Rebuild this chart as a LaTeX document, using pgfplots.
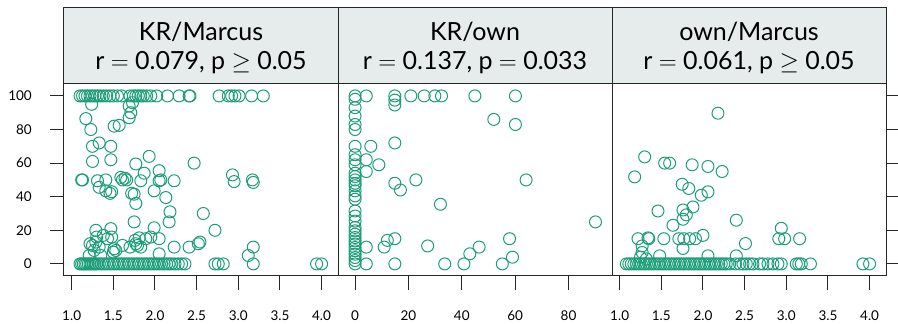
\documentclass[border=0pt]{standalone}
\usepackage{pgfplots}
\pgfplotsset{compat=1.18}
\usepackage{fontspec}
\setmainfont{Lato}
\definecolor{dgreen}{HTML}{1B9E77}
\definecolor{stripbg}{RGB}{230,235,235}
\begin{document}
\begin{tikzpicture}[x=1pt,y=1pt]
\path[use as bounding box] (0,0) rectangle (898,324);
\pgfplotsset{
  panel/.style={
    scale only axis, width=274pt, height=192pt,
    ymin=-7.2, ymax=107.1, anchor=south west, clip=false,
    axis line style={black!85, line width=1pt},
    every tick/.style={black!85, line width=1pt},
    major tick length=14pt, tick align=outside,
    ytick={0,20,40,60,80,100},
    /pgf/number format/assume math mode=true,
    tick label style={font=\fontsize{13.5}{13.5}\selectfont, inner sep=0pt},
    xticklabel shift=21pt,
    yticklabel shift=18pt,
  },
  pts/.style={only marks, mark=o, mark size=6pt, mark options={line width=1pt, draw=dgreen}, color=dgreen},
}
\newcommand{\strip}[2]{%
  \fill[stripbg] (rel axis cs:0,1) rectangle (rel axis cs:1,1.401);
  \draw[black!85, line width=1pt] (rel axis cs:0,1) rectangle (rel axis cs:1,1.401);
  \node[anchor=base, inner sep=0pt, font=\fontsize{25}{25}\selectfont] at (rel axis cs:0.5,1.229) {#1};
  \node[anchor=base, inner sep=0pt, font=\fontsize{25}{25}\selectfont] at (rel axis cs:0.5,1.073) {#2};
}
% Panel 1: KR/Marcus
\begin{axis}[panel, at={(64pt,48pt)},
  xmin=0.908, xmax=4.197,
  xtick={1,1.5,2,2.5,3,3.5,4}, xticklabels={1.0,1.5,2.0,2.5,3.0,3.5,4.0},
  xtick pos=left, ytick pos=left]
\addplot[pts] coordinates {
(1.10,100)(1.13,100)(1.16,100)(1.19,100)(1.22,100)(1.25,100)(1.28,100)(1.31,100)(1.34,100)(1.38,100)(1.42,100)(1.46,100)(1.50,100)(1.55,100)(1.60,100)(1.70,100)(1.74,100)(1.77,100)(1.80,100)(1.83,100)(1.86,100)(1.90,100)(1.95,100)(2.02,100)(2.15,100)(2.29,100)(2.41,100)(2.42,100)(2.77,100)(2.88,100)(2.92,100)(2.96,100)(3.01,100)(3.16,100)(3.30,100)
(1.24,95)(1.69,94)(1.73,96)(1.69,87)(1.71,90)(1.17,86.5)(1.23,80)(1.51,82)(1.57,82.5)(1.25,70)(1.33,72)(1.47,70)(1.25,61)(1.47,62)(1.77,59.5)(1.93,64)(2.47,60)(1.13,50)(1.12,50)(1.31,49.5)(1.41,50)(1.33,45.6)(1.41,43.5)(1.46,42)(1.48,43)(1.59,51.5)(1.61,50)(1.64,51)(1.66,50)(1.83,49.5)(1.87,54)(2.05,55.5)(2.05,49.5)(2.07,50)(2.23,49.5)(1.72,42)(1.75,41.5)(1.77,36)(1.99,43.5)(2.13,39.5)(2.18,31)(2.17,25)(1.75,25)(2.58,30)(2.72,20)(2.93,53)(2.95,49)(3.17,50)(3.18,48.5)
(1.29,20)(1.47,21)(1.99,21.5)(1.81,15.5)(2.05,15)(1.29,13)(1.25,11)(1.33,10)(1.43,15)(1.51,9)(1.53,8)(1.61,11)(1.77,12)(1.83,10)(1.89,15)(2.23,10)(2.41,10)(2.52,12)(2.54,13)(1.22,12)(1.30,16)(1.38,17)(1.48,16)(1.21,5)(1.35,5)(1.50,7)(1.27,8)(1.76,14)(1.95,16)(2.05,6)(1.70,10)(1.79,11)(3.18,10)(3.12,5)
(1.10,0)(1.12,0)(1.14,0)(1.16,0)(1.18,0)(1.20,0)(1.22,0)(1.24,0)(1.26,0)(1.28,0)(1.30,0)(1.33,0)(1.36,0)(1.39,0)(1.42,0)(1.45,0)(1.48,0)(1.51,0)(1.54,0)(1.57,0)(1.60,0)(1.63,0)(1.66,0)(1.69,0)(1.72,0)(1.75,0)(1.78,0)(1.81,0)(1.84,0)(1.87,0)(1.90,0)(1.93,0)(1.96,0)(1.99,0)(2.02,0)(2.05,0)(2.08,0)(2.11,0)(2.14,0)(2.17,0)(2.20,0)(2.24,0)(2.28,0)(2.32,0)(2.36,0)(2.72,0)(2.76,0)(2.82,0)(3.18,0)(3.94,0)(4.00,0)
};
\strip{KR/Marcus}{r $=$ 0.079, p $\geq$ 0.05}
\end{axis}
% Panel 2: KR/own
\begin{axis}[panel, at={(338pt,48pt)},
  xmin=-6.4, xmax=96.3,
  xtick={0,20,40,60,80},
  xtick pos=left, ytick=\empty]
\addplot[pts] coordinates {
(0,100)(0,98)(0,93)(0,88)(0,83)(0,80)(0,70)(0,65)(0,62)(0,59)(0,54)(0,52)(0,50)(0,48)(0,46.5)(0,43.5)(0,40.5)(0,38.5)(0,31.5)(0,28.5)(0,25.5)(0,21.7)(0,19.7)(0,17.7)(0,15.7)(0,13.7)(0,11.8)(0,9.8)(0,7.8)(0,5.8)(0,3.8)(0,2)(0,0)
(4.2,100)(5.9,70)(4.2,62)(8.9,59)(4.2,55)(4.2,10)(4.2,0)(14.9,100)(14.9,97.5)(14.9,94.6)(14.9,72)(14.9,48)(17,44)(22.8,50)(14.9,15)(12.1,14)(10.9,10)(14.9,0)(20.9,100)(25.9,100)(29.9,100)(32.4,100)(44.9,100)(60.1,100)(32,35.5)(27.2,10.7)(33.6,0)(40.8,0)(43,6)(46.5,10)(52,86)(60.1,83)(64.1,50)(90.1,25)(57.9,15)(59,4)(55.2,0)
};
\strip{KR/own}{r $=$ 0.137, p $=$ 0.033}
\end{axis}
% Panel 3: own/Marcus
\begin{axis}[panel, at={(612pt,48pt)},
  xmin=0.908, xmax=4.197,
  xtick={1,1.5,2,2.5,3,3.5,4}, xticklabels={1.0,1.5,2.0,2.5,3.0,3.5,4.0},
  xtick pos=left, ytick pos=right, yticklabels={}]
\addplot[pts] coordinates {
(2.18,89.7)(1.30,63.7)(1.18,51.8)(1.54,60)(1.60,60)(1.87,59)(2.06,58)(2.23,55)(1.75,47.4)(1.83,44.9)(1.98,40.9)(2.06,42.9)(1.46,31.5)(1.76,32.1)(1.88,33.9)(1.76,26.6)(1.80,29.2)(1.64,23)(2.40,26)(1.22,15)(1.35,15)(1.34,15.5)(1.53,15)(1.71,15)(1.77,15)(1.84,15)(1.91,15)(2.0,17)(1.27,10.7)(1.27,6.8)(1.48,4.8)(1.76,9.2)(2.06,4.8)(2.40,4.8)(2.51,12.1)(2.94,21.2)(2.91,15)(2.98,15)(3.16,15)(1.25,4)(1.32,3)
(1.08,0)(1.11,0)(1.14,0)(1.17,0)(1.20,0)(1.23,0)(1.26,0)(1.29,0)(1.32,0)(1.35,0)(1.38,0)(1.41,0)(1.44,0)(1.47,0)(1.50,0)(1.53,0)(1.56,0)(1.59,0)(1.62,0)(1.65,0)(1.68,0)(1.71,0)(1.74,0)(1.77,0)(1.80,0)(1.83,0)(1.86,0)(1.89,0)(1.92,0)(1.95,0)(1.98,0)(2.01,0)(2.04,0)(2.07,0)(2.10,0)(2.13,0)(2.16,0)(2.19,0)(2.22,0)(2.25,0)(2.28,0)(2.32,0)(2.39,0)(2.44,0)(2.48,0)(2.52,0)(2.56,0)(2.60,0)(2.68,0)(2.72,0)(2.78,0)(2.84,0)(2.90,0)(2.94,0)(3.12,0)(3.15,0)(3.18,0)(3.29,0)(3.92,0)(4.00,0)
};
\strip{own/Marcus}{r $=$ 0.061, p $\geq$ 0.05}
\end{axis}
\end{tikzpicture}
\end{document}
